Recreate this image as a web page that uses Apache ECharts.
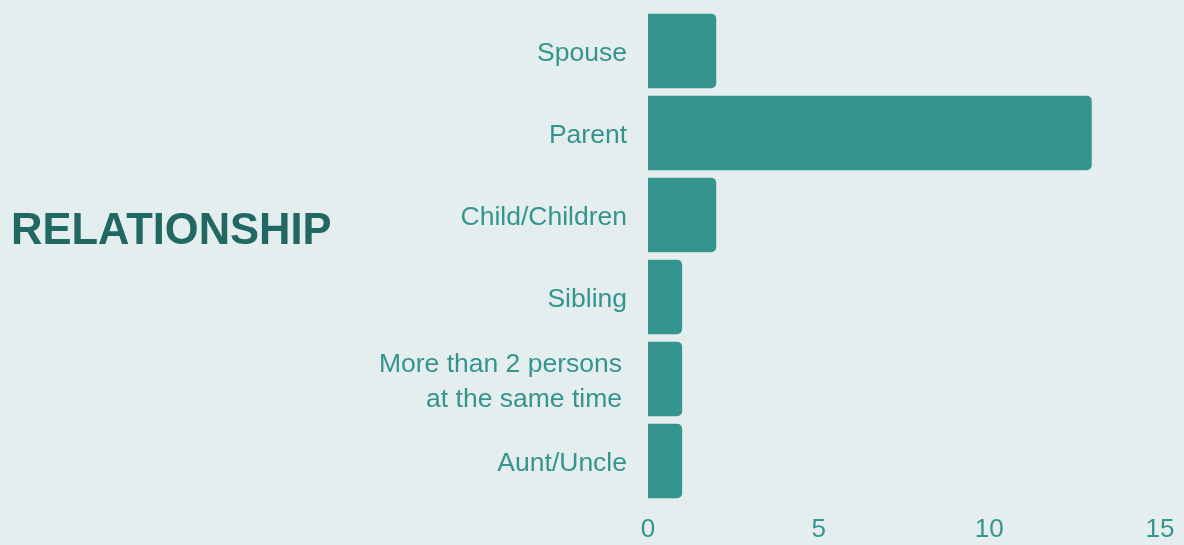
<!DOCTYPE html>
<html>
<head>
<meta charset="utf-8">
<script src="https://cdn.jsdelivr.net/npm/echarts@6/dist/echarts.min.js"></script>
<style>
  html, body { margin: 0; padding: 0; background: #e5eeee; }
  #chart { width: 1184px; height: 545px; }
</style>
</head>
<body>
<div id="chart"></div>
<script>
// categories top to bottom
var categories = ['Spouse', 'Parent', 'Child/Children', 'Sibling', 'More than 2 persons\nat the same time', 'Aunt/Uncle'];
var counts = [2, 13, 2, 1, 1, 1];
var xTicks = [0, 5, 10, 15];

var teal = '#36948e';

var option = {
  backgroundColor: '#e5eeee',
  title: {
    text: 'RELATIONSHIP',
    left: 6,
    top: 205,
    textStyle: {
      color: '#216763',
      fontFamily: 'Liberation Sans',
      fontWeight: 'bold',
      fontSize: 43.5
    }
  },
  grid: { left: 648, right: 24, top: 10, bottom: 43 },
  xAxis: {
    type: 'value',
    min: xTicks[0],
    max: xTicks[xTicks.length - 1],
    interval: 5,
    splitLine: { show: false },
    axisLine: { show: false },
    axisTick: { show: false },
    axisLabel: {
      color: teal,
      fontFamily: 'Liberation Sans',
      fontSize: 26,
      margin: 15
    }
  },
  yAxis: {
    type: 'category',
    inverse: true,
    data: categories,
    axisLine: { show: false },
    axisTick: { show: false },
    axisLabel: {
      margin: 21,
      formatter: function (value) {
        var lines = value.split('\n');
        var tag = lines.length > 1 ? 'b' : 'a';
        return lines.map(function (l) { return '{' + tag + '|' + l + '}'; }).join('\n');
      },
      rich: {
        a: { color: teal, fontFamily: 'Liberation Sans', fontSize: 26.5, lineHeight: 35, padding: [6, 0, 0, 0] },
        b: { color: teal, fontFamily: 'Liberation Sans', fontSize: 26.5, lineHeight: 35, padding: [6, 5, 0, 0] }
      }
    }
  },
  series: [{
    type: 'bar',
    data: counts,
    barCategoryGap: '9%',
    itemStyle: { color: teal, borderRadius: [0, 5, 5, 0] }
  }]
};

var myChart = echarts.init(document.getElementById('chart'));
myChart.setOption(option);
</script>
</body>
</html>
